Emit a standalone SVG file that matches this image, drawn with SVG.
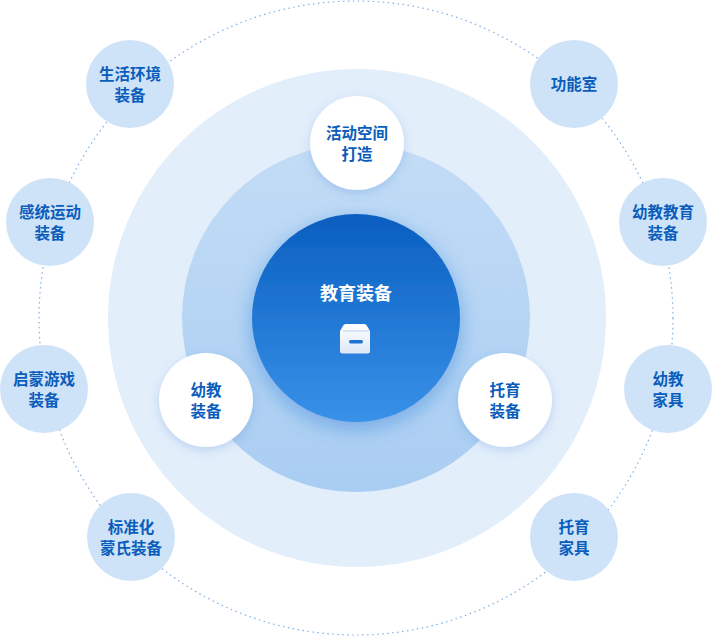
<svg xmlns="http://www.w3.org/2000/svg" width="713" height="637" viewBox="0 0 713 637">
<defs>
<style>
.t{font-family:"Noto Sans CJK SC","Noto Sans",sans-serif;font-size:15.5px;font-weight:bold;fill:#0a5dbb;text-anchor:middle}
.o{fill:#cfe3f8}
.w{fill:#fff;filter:url(#sh)}
</style>
<linearGradient id="core" x1="0" y1="0" x2="0" y2="1"><stop offset="0" stop-color="#0a5ec0"/><stop offset="1" stop-color="#3991e8"/></linearGradient>
<linearGradient id="mid" x1="0" y1="0" x2="0" y2="1"><stop offset="0" stop-color="#c3dcf6"/><stop offset="1" stop-color="#a9cdf2"/></linearGradient>
<linearGradient id="box" x1="0" y1="0" x2="0" y2="1"><stop offset="0" stop-color="#fff"/><stop offset="1" stop-color="#dde9f7"/></linearGradient>
<filter id="sh" x="-30%" y="-30%" width="160%" height="160%"><feDropShadow dx="0" dy="3" stdDeviation="5" flood-color="#3a7fd0" flood-opacity="0.25"/></filter>
<filter id="cs" x="-30%" y="-30%" width="160%" height="160%"><feDropShadow dx="0" dy="6" stdDeviation="10" flood-color="#1a6ad0" flood-opacity="0.4"/></filter>
</defs>
<g id="connectors">
<circle cx="356" cy="318" r="317" fill="none" stroke="#7fb0e6" stroke-width="1.2" stroke-dasharray="1.5 3.5"/>
</g>
<circle cx="357" cy="318" r="249" fill="#e3eefb"/>
<circle cx="356" cy="318" r="174" fill="url(#mid)"/>
<g id="core"><circle cx="356" cy="318" r="104" fill="url(#core)" filter="url(#cs)"/>
<text x="356" y="300" class="t" style="fill:#fff;font-size:18px">教育装备</text>
<path d="M348 324 h16 a3 3 0 0 1 3 2 l3 5 v20 a2.5 2.5 0 0 1 -2.5 2.5 h-25 a2.5 2.5 0 0 1 -2.5 -2.5 v-20 l3 -5 a3 3 0 0 1 3 -2z" fill="url(#box)"/>
<path d="M343 331 h26" stroke="#1a6fd0" stroke-width="1" opacity="0.3"/>
<rect x="349" y="340" width="14" height="3.5" rx="1.7" fill="#1f74d6"/>
</g>
<g id="n-hd"><circle cx="357" cy="143" r="47" class="w"/><text x="357" y="139" class="t">活动空间</text><text x="357" y="160" class="t">打造</text></g>
<g id="n-yj"><circle cx="206" cy="400" r="47" class="w"/><text x="206" y="396" class="t">幼教</text><text x="206" y="417" class="t">装备</text></g>
<g id="n-ty"><circle cx="505" cy="400" r="47" class="w"/><text x="505" y="396" class="t">托育</text><text x="505" y="417" class="t">装备</text></g>
<g id="o1"><circle cx="130" cy="84" r="44" class="o"/><text x="130" y="80" class="t">生活环境</text><text x="130" y="101" class="t">装备</text></g>
<g id="o2"><circle cx="574" cy="84" r="44" class="o"/><text x="574" y="90" class="t">功能室</text></g>
<g id="o3"><circle cx="50" cy="222" r="44" class="o"/><text x="50" y="218" class="t">感统运动</text><text x="50" y="239" class="t">装备</text></g>
<g id="o4"><circle cx="663" cy="222" r="44" class="o"/><text x="663" y="218" class="t">幼教教育</text><text x="663" y="239" class="t">装备</text></g>
<g id="o5"><circle cx="44" cy="389" r="44" class="o"/><text x="44" y="385" class="t">启蒙游戏</text><text x="44" y="406" class="t">装备</text></g>
<g id="o6"><circle cx="668" cy="389" r="44" class="o"/><text x="668" y="385" class="t">幼教</text><text x="668" y="406" class="t">家具</text></g>
<g id="o7"><circle cx="131" cy="537" r="44" class="o"/><text x="131" y="533" class="t">标准化</text><text x="131" y="554" class="t">蒙氏装备</text></g>
<g id="o8"><circle cx="574" cy="537" r="44" class="o"/><text x="574" y="533" class="t">托育</text><text x="574" y="554" class="t">家具</text></g>
</svg>
